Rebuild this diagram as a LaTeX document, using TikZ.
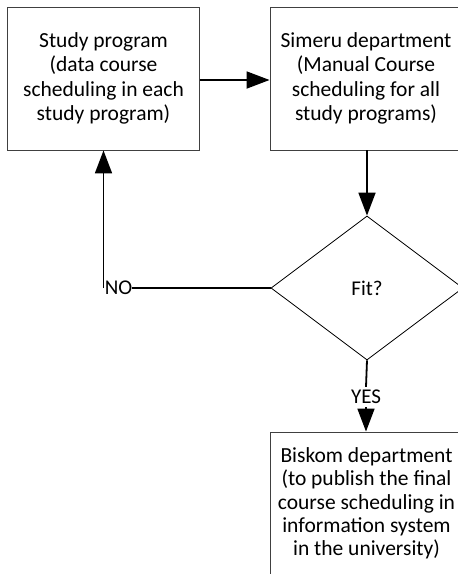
\documentclass[tikz,border=0pt]{standalone}
\usepackage{fontspec}
\setmainfont{Carlito}
\usetikzlibrary{arrows.meta,shapes.geometric}
\begin{document}
\begin{tikzpicture}[x=1pt,y=1pt,
  procbox/.style={draw=black!75, line width=0.9pt, minimum width=192pt,
    minimum height=143pt, align=center, inner sep=0pt,
    font=\fontsize{21.5}{24.5}\selectfont},
  decision/.style={diamond, draw, line width=0.8pt, minimum width=192pt,
    minimum height=144pt, inner sep=0pt, font=\fontsize{21}{24}\selectfont},
  flow/.style={line width=1.8pt, -{Triangle[length=23pt,width=17pt]}},
  plainline/.style={line width=1.8pt},
  branch/.style={inner sep=0pt, font=\fontsize{21}{24}\selectfont}]
\useasboundingbox (0,0) rectangle (458,-574);

% process boxes
\node[procbox] (study) at (103.5,-78.5)
  {Study program\\(data course\\scheduling in each\\study program)};
\node[procbox] (simeru) at (366,-78.5)
  {Simeru department\\(Manual Course\\scheduling for all\\study programs)};
\node[procbox, font=\fontsize{21.5}{23.3}\selectfont] (biskom) at (366.5,-503.5)
  {Biskom department\\(to publish the final\\course scheduling in\\information system\\in the university)};

% decision
\node[decision] (fit) at (367,-288) {Fit?};

% branch labels
\node[branch] (no) at (118.5,-288) {NO};
\node[branch] (yes) at (366,-397) {YES};

% connectors
\draw[flow] (study.east |- 0,-80) -- (simeru.west |- 0,-80);
\draw[flow] (fit.north |- simeru.south) -- (fit.north);
\draw[plainline] (fit.west) -- (no.east);
\draw[flow] (study.south |- no.center) -- (study.south);
\draw[plainline] (fit.south) -- ([yshift=3pt]yes.north);
\draw[flow] ([yshift=-3pt]yes.south) -- (yes.south |- biskom.north);
\end{tikzpicture}
\end{document}
